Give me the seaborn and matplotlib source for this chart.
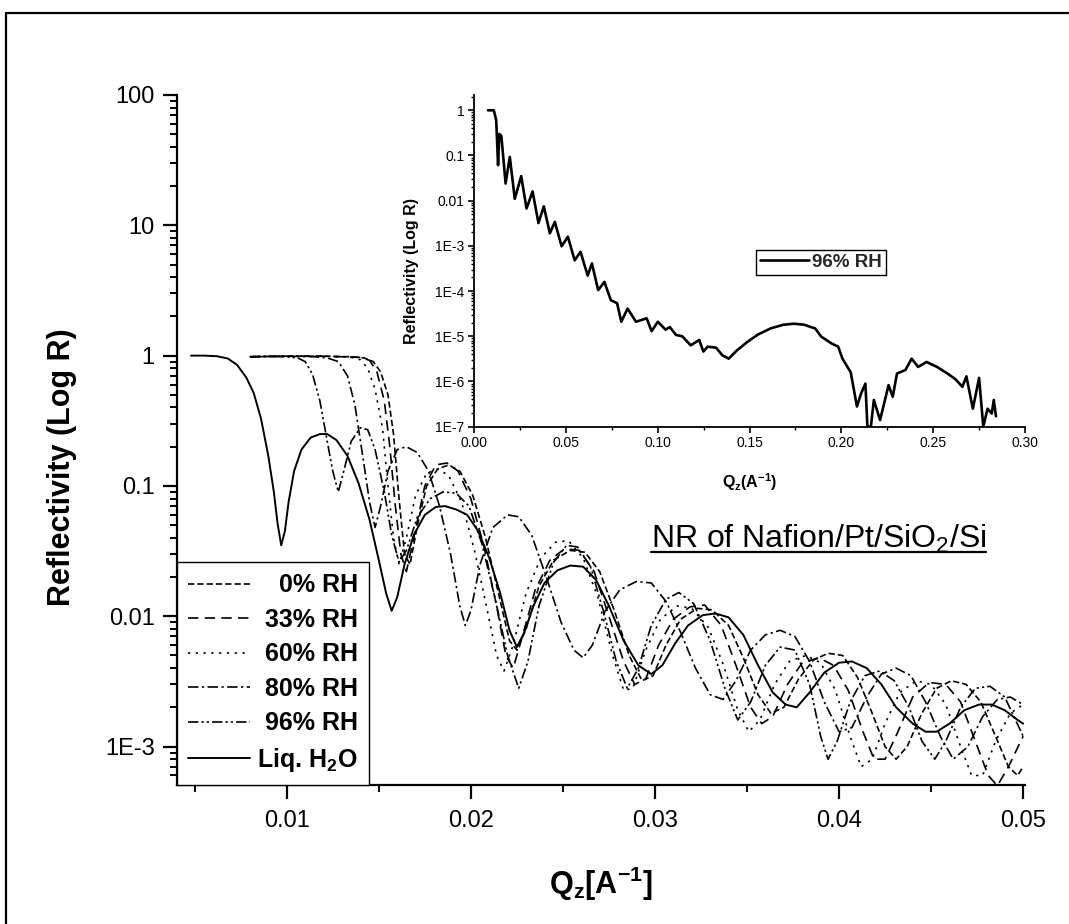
import numpy as np
import pandas as pd
import matplotlib
matplotlib.use("Agg")
import matplotlib.pyplot as plt
import seaborn as sns
from matplotlib.lines import Line2D
from matplotlib.ticker import LogLocator, MultipleLocator, FixedLocator, FixedFormatter, NullFormatter

sns.set_theme(style="ticks")
plt.rcParams['font.family'] = ['Liberation Sans', 'DejaVu Sans']
plt.rcParams['mathtext.fontset'] = 'custom'
plt.rcParams['mathtext.rm'] = 'Liberation Sans'
plt.rcParams['mathtext.it'] = 'Liberation Sans:italic'
plt.rcParams['mathtext.bf'] = 'Liberation Sans:bold'
plt.rcParams['lines.scale_dashes'] = False

# ---------------- data ----------------
series_labels = ["0% RH", "33% RH", "60% RH", "80% RH", "96% RH", "Liq. H$_\\mathbf{2}$O"]

q_liq = [0.0048, 0.0055, 0.0062, 0.0068, 0.0073, 0.0078, 0.0082, 0.0086, 0.0090, 0.0093, 0.0095, 0.0097,
         0.0099, 0.0101, 0.0104, 0.0108, 0.0113, 0.0118, 0.0122, 0.0127, 0.0133, 0.0139, 0.0145, 0.0150,
         0.0154, 0.0157, 0.0160, 0.0164, 0.0169, 0.0175, 0.0181, 0.0186, 0.0192, 0.0198, 0.0204, 0.0210,
         0.0216, 0.0221, 0.0225, 0.0229, 0.0234, 0.0240, 0.0247, 0.0254, 0.0261, 0.0268, 0.0275, 0.0283,
         0.0291, 0.0298, 0.0304, 0.0311, 0.0318, 0.0326, 0.0333, 0.0340, 0.0348, 0.0356, 0.0364, 0.0371,
         0.0377, 0.0384, 0.0392, 0.0400, 0.0407, 0.0415, 0.0423, 0.0431, 0.0440, 0.0447, 0.0453, 0.0460,
         0.0468, 0.0476, 0.0483, 0.0490, 0.0497, 0.0500]
r_liq = [1.0, 1.0, 0.99, 0.95, 0.85, 0.68, 0.52, 0.33, 0.17, 0.09, 0.052, 0.035,
         0.045, 0.075, 0.13, 0.19, 0.235, 0.25, 0.25, 0.225, 0.17, 0.105, 0.055, 0.027,
         0.015, 0.011, 0.014, 0.025, 0.042, 0.060, 0.069, 0.070, 0.066, 0.060, 0.045, 0.028,
         0.015, 0.0078, 0.0058, 0.0075, 0.012, 0.018, 0.0225, 0.0245, 0.024, 0.019, 0.012, 0.0065,
         0.0042, 0.0036, 0.0042, 0.0062, 0.0085, 0.0102, 0.0105, 0.0098, 0.0072, 0.0042, 0.0026, 0.0021,
         0.0020, 0.0026, 0.0037, 0.0044, 0.0045, 0.0040, 0.0030, 0.0020, 0.0015, 0.0013, 0.0013, 0.0015,
         0.0019, 0.0021, 0.0021, 0.0019, 0.0016, 0.0015]

q_96 = [0.0080, 0.0090, 0.0100, 0.0106, 0.0110, 0.0114, 0.0118, 0.0122, 0.0125, 0.0128, 0.0131, 0.0135,
        0.0140, 0.0144, 0.0148, 0.0153, 0.0157, 0.0161, 0.0165, 0.0171, 0.0178, 0.0185, 0.0192, 0.0199,
        0.0206, 0.0213, 0.0220, 0.0226, 0.0231, 0.0237, 0.0245, 0.0252, 0.0258, 0.0265, 0.0272, 0.0279,
        0.0285, 0.0291, 0.0298, 0.0306, 0.0313, 0.0321, 0.0330, 0.0338, 0.0345, 0.0352, 0.0360, 0.0368,
        0.0376, 0.0384, 0.0390, 0.0394, 0.0399, 0.0406, 0.0414, 0.0422, 0.0430, 0.0438, 0.0445, 0.0452,
        0.0458, 0.0466, 0.0474, 0.0482, 0.0490, 0.0500]
r_96 = [0.98, 0.99, 0.98, 0.96, 0.9, 0.72, 0.45, 0.22, 0.13, 0.09, 0.13, 0.22,
        0.28, 0.27, 0.19, 0.09, 0.042, 0.026, 0.032, 0.058, 0.08, 0.09, 0.088, 0.07,
        0.036, 0.014, 0.005, 0.0028, 0.0045, 0.012, 0.026, 0.035, 0.034, 0.024, 0.011, 0.0045,
        0.0028, 0.0040, 0.0085, 0.0135, 0.0152, 0.0125, 0.0065, 0.0028, 0.0016, 0.0022, 0.0042, 0.0058,
        0.0055, 0.003, 0.0012, 0.0008, 0.0011, 0.0022, 0.0035, 0.0038, 0.0032, 0.002, 0.0011, 0.0008,
        0.0011, 0.002, 0.0028, 0.0029, 0.0024, 0.0012]

q_80 = [0.0080, 0.0100, 0.0115, 0.0122, 0.0128, 0.0133, 0.0137, 0.0141, 0.0145, 0.0148, 0.0151, 0.0155,
        0.0160, 0.0165, 0.0171, 0.0177, 0.0183, 0.0189, 0.0194, 0.0197, 0.0200, 0.0205, 0.0212, 0.0220,
        0.0226, 0.0233, 0.0241, 0.0249, 0.0256, 0.0261, 0.0266, 0.0273, 0.0281, 0.0290, 0.0298, 0.0306,
        0.0314, 0.0322, 0.0330, 0.0337, 0.0344, 0.0352, 0.0360, 0.0368, 0.0376, 0.0384, 0.0392, 0.0400,
        0.0407, 0.0415, 0.0423, 0.0431, 0.0439, 0.0447, 0.0455, 0.0462, 0.0470, 0.0478, 0.0486, 0.0493,
        0.0500]
r_80 = [0.98, 0.99, 0.98, 0.96, 0.9, 0.7, 0.42, 0.18, 0.075, 0.048, 0.07, 0.13,
        0.19, 0.2, 0.18, 0.13, 0.07, 0.03, 0.012, 0.0085, 0.011, 0.025, 0.048, 0.06,
        0.058, 0.042, 0.02, 0.009, 0.0055, 0.0048, 0.006, 0.011, 0.016, 0.0185, 0.018, 0.013,
        0.0075, 0.004, 0.0025, 0.0023, 0.0032, 0.0055, 0.0072, 0.0078, 0.007, 0.0045, 0.0022, 0.0013,
        0.0014, 0.0024, 0.0036, 0.004, 0.0035, 0.0022, 0.0012, 0.0008, 0.001, 0.0017, 0.0023, 0.0024,
        0.0021]

q_60 = [0.0080, 0.0100, 0.0120, 0.0135, 0.0140, 0.0144, 0.0148, 0.0152, 0.0155, 0.0158, 0.0161, 0.0165,
        0.0170, 0.0176, 0.0182, 0.0188, 0.0195, 0.0202, 0.0209, 0.0214, 0.0218, 0.0223, 0.0230, 0.0238,
        0.0246, 0.0253, 0.0261, 0.0269, 0.0277, 0.0283, 0.0288, 0.0295, 0.0303, 0.0312, 0.0320, 0.0329,
        0.0337, 0.0345, 0.0351, 0.0357, 0.0365, 0.0373, 0.0382, 0.0390, 0.0398, 0.0406, 0.0412, 0.0418,
        0.0425, 0.0433, 0.0442, 0.0450, 0.0458, 0.0466, 0.0472, 0.0478, 0.0485, 0.0493, 0.0500]
r_60 = [0.98, 0.99, 0.99, 0.97, 0.93, 0.8, 0.55, 0.28, 0.1, 0.04, 0.025, 0.04,
        0.085, 0.125, 0.135, 0.12, 0.075, 0.032, 0.011, 0.005, 0.0038, 0.006, 0.015, 0.028,
        0.037, 0.038, 0.028, 0.014, 0.005, 0.0027, 0.0028, 0.0055, 0.0095, 0.012, 0.0115, 0.0082,
        0.0043, 0.0019, 0.0013, 0.0016, 0.003, 0.0045, 0.005, 0.0044, 0.0027, 0.0012, 0.0007, 0.0008,
        0.0015, 0.0026, 0.0032, 0.003, 0.0021, 0.001, 0.0006, 0.0006, 0.0011, 0.0018, 0.0021]

q_33 = [0.0080, 0.0100, 0.0120, 0.0140, 0.0145, 0.0149, 0.0153, 0.0156, 0.0159, 0.0162, 0.0165, 0.0169,
        0.0175, 0.0181, 0.0187, 0.0193, 0.0200, 0.0207, 0.0214, 0.0219, 0.0223, 0.0228, 0.0235, 0.0243,
        0.0251, 0.0259, 0.0267, 0.0275, 0.0283, 0.0289, 0.0295, 0.0302, 0.0310, 0.0319, 0.0327, 0.0336,
        0.0344, 0.0352, 0.0358, 0.0364, 0.0372, 0.0380, 0.0389, 0.0397, 0.0405, 0.0413, 0.0419, 0.0425,
        0.0432, 0.0440, 0.0449, 0.0458, 0.0466, 0.0474, 0.0481, 0.0486, 0.0492, 0.0500]
r_33 = [0.98, 0.99, 0.99, 0.97, 0.92, 0.75, 0.45, 0.2, 0.07, 0.03, 0.022, 0.04,
        0.1, 0.145, 0.15, 0.13, 0.08, 0.035, 0.012, 0.005, 0.004, 0.007, 0.016, 0.027,
        0.033, 0.032, 0.022, 0.01, 0.0045, 0.003, 0.0033, 0.006, 0.0095, 0.0118, 0.0122, 0.0085,
        0.0042, 0.002, 0.0015, 0.0017, 0.003, 0.0044, 0.0048, 0.0042, 0.0027, 0.0013, 0.0008, 0.0008,
        0.0013, 0.0024, 0.0031, 0.003, 0.0022, 0.0011, 0.0006, 0.0005, 0.0007, 0.0012]

q_0 = [0.0080, 0.0100, 0.0120, 0.0135, 0.0142, 0.0147, 0.0151, 0.0155, 0.0158, 0.0161, 0.0164, 0.0167,
       0.0171, 0.0176, 0.0182, 0.0188, 0.0194, 0.0201, 0.0208, 0.0215, 0.0221, 0.0225, 0.0230, 0.0237,
       0.0245, 0.0254, 0.0262, 0.0270, 0.0278, 0.0286, 0.0293, 0.0299, 0.0306, 0.0314, 0.0323, 0.0331,
       0.0340, 0.0348, 0.0356, 0.0363, 0.0370, 0.0378, 0.0386, 0.0394, 0.0402, 0.0410, 0.0418, 0.0425,
       0.0431, 0.0437, 0.0445, 0.0453, 0.0461, 0.0469, 0.0477, 0.0485, 0.0492, 0.0497, 0.0500]
r_0 = [0.98, 0.99, 0.99, 0.98, 0.96, 0.9, 0.75, 0.5, 0.25, 0.08, 0.03, 0.025,
       0.05, 0.1, 0.135, 0.145, 0.13, 0.085, 0.04, 0.015, 0.0065, 0.0055, 0.008, 0.017,
       0.027, 0.032, 0.031, 0.022, 0.011, 0.005, 0.0032, 0.0035, 0.006, 0.0095, 0.0115, 0.0112,
       0.0085, 0.0048, 0.0025, 0.0018, 0.002, 0.0033, 0.0046, 0.0052, 0.0050, 0.0034, 0.0018, 0.0010,
       0.0008, 0.001, 0.0018, 0.0028, 0.0032, 0.003, 0.0022, 0.0012, 0.0007, 0.0006, 0.0007]

# inset: 96% RH full range
q_in = [0.0076, 0.0108, 0.0121, 0.0131, 0.0138, 0.0149, 0.0172, 0.0195, 0.0222, 0.0257, 0.0286, 0.0319,
        0.0351, 0.0380, 0.0413, 0.0440, 0.0477, 0.0511, 0.0548, 0.0580, 0.0619, 0.0642, 0.0676, 0.0710,
        0.0745, 0.0779, 0.0802, 0.0836, 0.0882, 0.0940, 0.0967, 0.1001, 0.1043, 0.1066, 0.1100, 0.1134,
        0.1180, 0.1226, 0.1249, 0.1272, 0.1318, 0.1352, 0.1387, 0.1432, 0.1490, 0.1547, 0.1616, 0.1684,
        0.1742, 0.1799, 0.1834, 0.1857, 0.1891, 0.1948, 0.1983, 0.2006, 0.2051, 0.2085, 0.2108, 0.2131,
        0.2142, 0.2161, 0.2177, 0.2211, 0.2257, 0.2280, 0.2303, 0.2349, 0.2383, 0.2418, 0.2464, 0.2521,
        0.2578, 0.2624, 0.2659, 0.2681, 0.2716, 0.2750, 0.2773, 0.2796, 0.2819, 0.2830, 0.2842]
r_in = [1.0, 1.0, 0.6, 0.061, 0.30, 0.27, 0.024, 0.093, 0.011, 0.035, 0.0067, 0.016,
        0.0032, 0.0075, 0.0019, 0.0034, 9.8e-4, 1.6e-3, 4.8e-4, 7.4e-4, 2.2e-4, 4.1e-4, 1.05e-4, 1.6e-4,
        6.3e-5, 5.4e-5, 2.1e-5, 4.1e-5, 2.1e-5, 2.5e-5, 1.3e-5, 2.1e-5, 1.4e-5, 1.6e-5, 1.07e-5, 1.0e-5,
        6.3e-6, 8.3e-6, 4.6e-6, 5.9e-6, 5.6e-6, 3.8e-6, 3.2e-6, 4.9e-6, 7.6e-6, 1.1e-5, 1.5e-5, 1.8e-5,
        1.9e-5, 1.8e-5, 1.6e-5, 1.5e-5, 9.8e-6, 6.9e-6, 5.9e-6, 3.2e-6, 1.6e-6, 2.8e-7, 5.5e-7, 9.0e-7,
        1.0e-7, 1.0e-7, 3.9e-7, 1.4e-7, 8.3e-7, 4.6e-7, 1.5e-6, 1.8e-6, 3.2e-6, 2.1e-6, 2.7e-6, 2.1e-6,
        1.5e-6, 1.1e-6, 7.6e-7, 1.3e-6, 2.5e-7, 1.2e-6, 1.0e-7, 2.5e-7, 1.95e-7, 3.9e-7, 1.7e-7]

main_xticks = [0.01, 0.02, 0.03, 0.04, 0.05]
main_yticks = [1e-3, 1e-2, 1e-1, 1, 10, 100]
main_yticklabels = ["1E-3", "0.01", "0.1", "1", "10", "100"]
inset_yticks = [1e-7, 1e-6, 1e-5, 1e-4, 1e-3, 1e-2, 1e-1, 1]
inset_yticklabels = ["1E-7", "1E-6", "1E-5", "1E-4", "1E-3", "0.01", "0.1", "1"]
inset_xticks = [0.00, 0.05, 0.10, 0.15, 0.20, 0.25, 0.30]

# ---------------- style ----------------
dash_styles = [
    (0, (4.5, 2.2)),
    (0, (7.5, 4.5)),
    (0, (1.6, 4.0)),
    (0, (7.5, 2.5, 1.6, 2.5)),
    (0, (7.5, 2.2, 1.6, 2.2, 1.6, 2.2)),
    "-",
]

W, H = 1069, 924
fig = plt.figure(figsize=(W / 100, H / 100), dpi=100)
fig.patch.set_facecolor("white")

ax = fig.add_axes([177 / W, 1 - 785 / H, (1025 - 177) / W, (785 - 95) / H])
ax.set_facecolor("white")

curves = [(q_0, r_0), (q_33, r_33), (q_60, r_60), (q_80, r_80), (q_96, r_96), (q_liq, r_liq)]
frames = []
for (q, r), lab in zip(curves, series_labels):
    frames.append(pd.DataFrame({"q": q, "R": r, "series": lab}))
df = pd.concat(frames, ignore_index=True)

handles = []
for lab, ls in zip(series_labels, dash_styles):
    sub = df[df["series"] == lab]
    lw = 1.4 if ls == "-" else 1.2
    sns.lineplot(data=sub, x="q", y="R", ax=ax, color="black", linestyle=ls, linewidth=lw,
                 estimator=None, sort=False, legend=False)
    handles.append(Line2D([], [], color="black", linestyle=ls, linewidth=lw))

ax.set_yscale("log")
ax.set_xlim(0.00404, 0.0501)
ax.set_ylim(5.07e-4, 100)
ax.xaxis.set_major_locator(FixedLocator(main_xticks))
ax.xaxis.set_major_formatter(FixedFormatter([f"{v:.2f}" for v in main_xticks]))
ax.xaxis.set_minor_locator(MultipleLocator(0.005))
ax.yaxis.set_major_locator(FixedLocator(main_yticks))
ax.yaxis.set_major_formatter(FixedFormatter(main_yticklabels))
ax.yaxis.set_minor_locator(LogLocator(base=10, subs=np.arange(2, 10), numticks=20))
ax.yaxis.set_minor_formatter(NullFormatter())
for s in ["top", "right"]:
    ax.spines[s].set_visible(False)
for s in ["left", "bottom"]:
    ax.spines[s].set_linewidth(1.6)
    ax.spines[s].set_color("black")
ax.tick_params(which="major", direction="out", length=10, width=1.6, labelsize=17, color="black",
               labelcolor="black")
ax.tick_params(which="minor", direction="out", length=5, width=1.4, color="black")
ax.tick_params(axis="x", which="major", pad=8)
ax.tick_params(axis="y", which="major", pad=6)

ax.set_xlabel("$\\mathbf{Q_z[A^{-1}]}$", fontsize=22, color="black")
ax.set_ylabel("Reflectivity (Log R)", fontsize=22, fontweight="bold", color="black")
ax.xaxis.set_label_coords(0.5, -0.115)
ax.yaxis.set_label_coords(-0.118, 0.46)

leg_font = {"weight": "bold", "size": 18}
leg = ax.legend(handles, series_labels, loc="lower left", bbox_to_anchor=(0, 0), borderaxespad=0,
                frameon=True, fancybox=False, edgecolor="black", framealpha=1,
                prop=leg_font, handlelength=2.45, handletextpad=0.3,
                labelspacing=0.42, borderpad=0.45)
leg.get_frame().set_linewidth(1.0)
for txt in leg.get_texts():
    txt.set_alpha(0.0)

# title text with underline
t = fig.text(651 / W, 1 - 548 / H, "NR of Nafion/Pt/SiO$_2$/Si", fontsize=23, color="black",
             ha="left", va="baseline")

# ---------------- inset ----------------
axin = fig.add_axes([474 / W, 1 - 426.7 / H, 551 / W, (426.7 - 95) / H])
axin.set_facecolor("none")
sns.lineplot(x=q_in, y=r_in, ax=axin, color="black", linewidth=1.9, estimator=None, sort=False,
             label="96% RH")
axin.set_yscale("log")
axin.set_xlim(0, 0.30)
axin.set_ylim(1e-7, 2.18)
axin.xaxis.set_major_locator(FixedLocator(inset_xticks))
axin.xaxis.set_major_formatter(FixedFormatter([f"{v:.2f}" for v in inset_xticks]))
axin.xaxis.set_minor_locator(MultipleLocator(0.025))
axin.yaxis.set_major_locator(FixedLocator(inset_yticks))
axin.yaxis.set_major_formatter(FixedFormatter(inset_yticklabels))
axin.yaxis.set_minor_locator(LogLocator(base=10, subs=np.arange(2, 10), numticks=20))
axin.yaxis.set_minor_formatter(NullFormatter())
for s in ["top", "right"]:
    axin.spines[s].set_visible(False)
for s in ["left", "bottom"]:
    axin.spines[s].set_linewidth(1.3)
    axin.spines[s].set_color("black")
axin.tick_params(which="major", direction="out", length=4, width=1.2, labelsize=10, color="black",
                 labelcolor="black", pad=3)
axin.tick_params(which="minor", direction="out", length=2.5, width=1.0, color="black")
axin.set_xlabel("$\\mathbf{Q_z(A^{-1})}$", fontsize=11.5, color="black")
axin.set_ylabel("Reflectivity (Log R)", fontsize=11.5, fontweight="bold", color="black")
axin.xaxis.set_label_coords(0.5, -0.135)
axin.yaxis.set_label_coords(-0.1, 0.47)
lin = axin.legend(loc="upper left", bbox_to_anchor=((756 - 474) / 551, 1 - (250 - 95) / (426.7 - 95)),
                  frameon=True, fancybox=False, edgecolor="black", framealpha=1,
                  prop={"weight": "bold", "size": 13.5}, handlelength=2.6, handletextpad=0.2,
                  borderpad=0.2, borderaxespad=0)
lin.get_frame().set_linewidth(1.0)

# figure border (left and top visible)
fig.add_artist(Line2D([6 / W, 6 / W], [0, 1 - 13 / H], color="black", lw=1.6, transform=fig.transFigure))
fig.add_artist(Line2D([6 / W, 1], [1 - 13 / H, 1 - 13 / H], color="black", lw=1.6, transform=fig.transFigure))

# underline for title text, right-aligned legend labels
fig.canvas.draw()
renderer = fig.canvas.get_renderer()
bb = t.get_window_extent(renderer=renderer)
uy = (H - 552) / H
fig.add_artist(Line2D([bb.x0 / W, bb.x1 / W], [uy, uy], color="black", lw=1.6, transform=fig.transFigure))

fbb = leg.get_frame().get_window_extent(renderer=renderer)
x_right = (fbb.x1 - 11) / W
for txt, lab in zip(leg.get_texts(), series_labels):
    tb = txt.get_window_extent(renderer=renderer)
    fig.text(x_right, (tb.y0 + tb.y1) / 2 / H, lab, ha="right", va="center",
             fontsize=leg_font["size"], fontweight="bold", color="black")

fig.savefig("out.png", dpi=100, facecolor="white")
